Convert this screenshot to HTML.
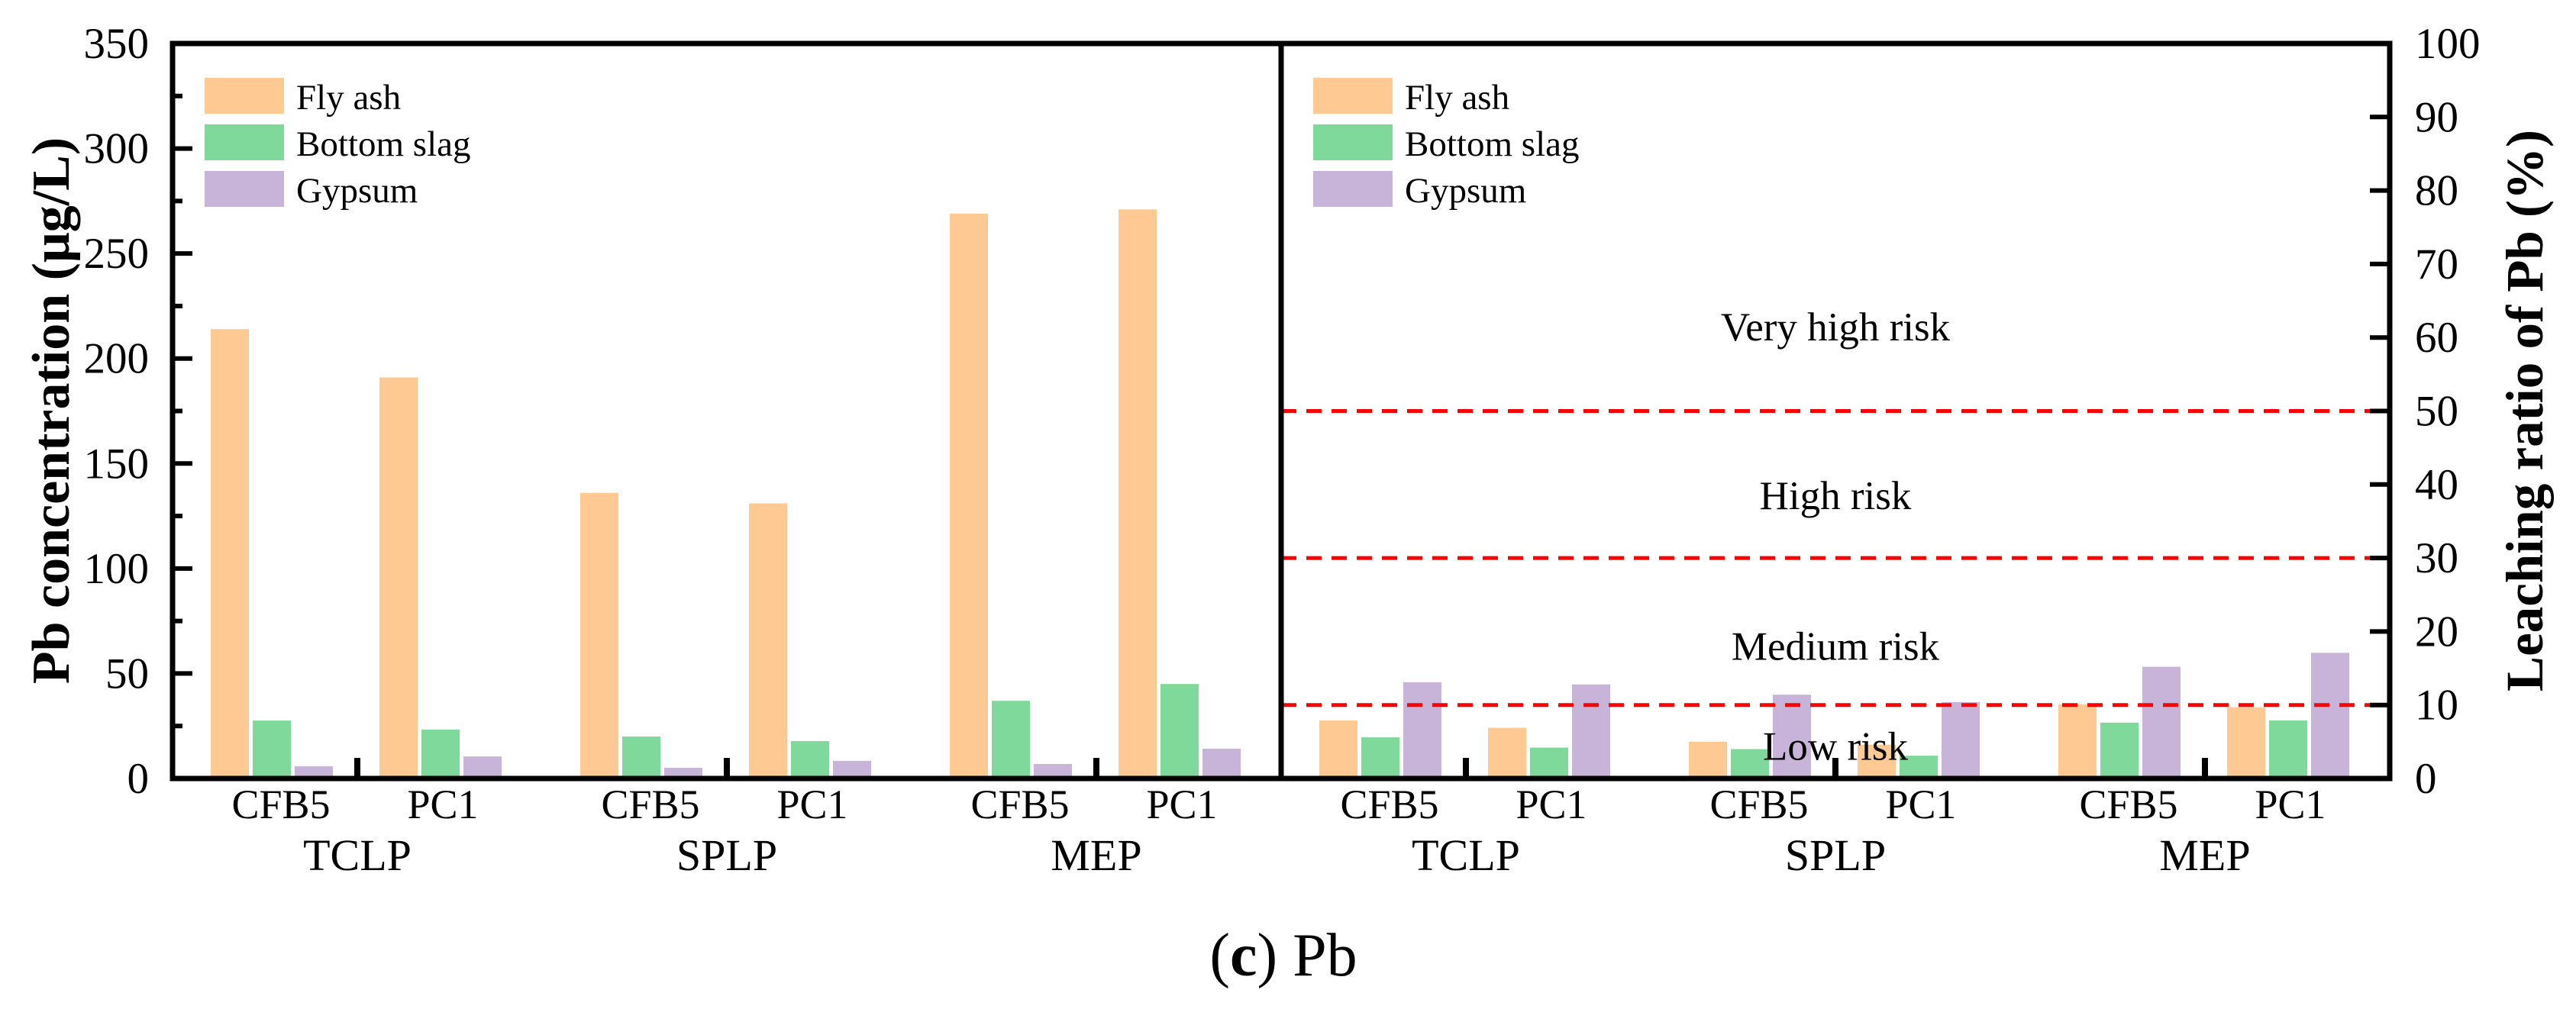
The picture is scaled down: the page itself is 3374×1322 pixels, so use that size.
<!DOCTYPE html>
<html><head><meta charset="utf-8"><style>
html,body{margin:0;padding:0;background:#fff;}
svg{display:block;}
text{font-family:"Liberation Serif",serif;fill:#000;}
</style></head>
<body>
<svg id="chart" width="3374" height="1322" viewBox="0 0 3374 1322" xmlns="http://www.w3.org/2000/svg">
<g id="bars"></g>
<g id="overlay"></g>
</svg>
<script>
const methods = ["TCLP", "SPLP", "MEP"];
const samples = ["CFB5", "PC1"];
const seriesNames = ["Fly ash", "Bottom slag", "Gypsum"];
const seriesColors = ["#FFC993", "#7FD99A", "#C8B4D8"];
// Left: Pb concentration (ug/L), order: TCLP-CFB5, TCLP-PC1, SPLP-CFB5, SPLP-PC1, MEP-CFB5, MEP-PC1
const concFlyAsh = [214, 191, 136, 131, 269, 271];
const concBottomSlag = [27.6, 23.3, 20, 17.8, 37, 45];
const concGypsum = [5.8, 10.5, 5.1, 8.4, 6.9, 14.2];
// Right: leaching ratio (%)
const ratioFlyAsh = [7.9, 6.9, 5.0, 4.6, 10.1, 9.7];
const ratioBottomSlag = [5.6, 4.2, 4.0, 3.1, 7.6, 7.9];
const ratioGypsum = [13.1, 12.8, 11.4, 10.4, 15.2, 17.1];
const leftTicks = [0, 50, 100, 150, 200, 250, 300, 350];
const rightTicks = [0, 10, 20, 30, 40, 50, 60, 70, 80, 90, 100];
const riskLines = [10, 30, 50];
const riskLabels = ["Low risk", "Medium risk", "High risk", "Very high risk"];
const riskLabelValues = [4.4, 18.0, 38.5, 61.5];

const NS = "http://www.w3.org/2000/svg";
const svg = document.getElementById("chart");
const gBars = document.getElementById("bars");
const gOv = document.getElementById("overlay");
const X0 = 226, XM = 1678, X1 = 3130, Y0 = 1020, YT = 57;
const yL = v => Y0 - (v / 350) * (Y0 - YT);
const yR = v => Y0 - (v / 100) * (Y0 - YT);
const catW = (XM - X0) / 3;
function mk(tag, attrs, parent, txt) {
  const e = document.createElementNS(NS, tag);
  for (const k in attrs) e.setAttribute(k, attrs[k]);
  if (txt !== undefined) e.textContent = txt;
  (parent || svg).appendChild(e);
  return e;
}

function drawPanel(px, data, yf, side) {
  methods.forEach((m, mi) => {
    const cx = px + catW * (mi + 0.5);
    samples.forEach((s, si) => {
      const idx = mi * 2 + si;
      const start = si === 0 ? cx - 192 : cx + 29;
      data.forEach((arr, k) => {
        const v = arr[idx];
        const r = mk("rect", {x: start + k * 55, y: yf(v), width: 50, height: Y0 - yf(v), fill: seriesColors[k]}, gBars);
        
        
      });
      const t = mk("text", {x: si === 0 ? cx - 100 : cx + 112, y: 1072, "font-size": 54, "text-anchor": "middle"}, gOv, s);
      
      
    });
    const sep = mk("rect", {x: cx - 4, y: 993, width: 8, height: 27, fill: "#000"}, gOv);
    
    
    const ml = mk("text", {x: cx, y: 1140, "font-size": 58, "text-anchor": "middle"}, gOv, m);
    
    
  });
  seriesNames.forEach((n, k) => {
    const sw = mk("rect", {x: px + 42, y: 102 + k * 61, width: 104, height: 47, fill: seriesColors[k]}, gOv);
    
    
    const lt = mk("text", {x: px + 162, y: 143 + k * 61, "font-size": 47}, gOv, n);
    
    
  });
}
drawPanel(X0, [concFlyAsh, concBottomSlag, concGypsum], yL, "left");
drawPanel(XM, [ratioFlyAsh, ratioBottomSlag, ratioGypsum], yR, "right");

riskLines.forEach(v => {
  const l = mk("line", {x1: XM, x2: X1, y1: yR(v), y2: yR(v), stroke: "#ff0000", "stroke-width": 5, "stroke-dasharray": "20 13"}, gOv);
  
  
});
riskLabels.forEach((n, i) => {
  const t = mk("text", {x: 2404, y: yR(riskLabelValues[i]) + 18, "font-size": 53, "text-anchor": "middle"}, gOv, n);
  
  
});

for (let v = 0; v <= 350; v += 25) {
  const major = v % 50 === 0;
  const tk = mk("line", {x1: X0, x2: X0 + (major ? 26 : 13), y1: yL(v), y2: yL(v), stroke: "#000", "stroke-width": 6}, gOv);
  
  
}
leftTicks.forEach(v => {
  const t = mk("text", {x: 195, y: yL(v) + 19, "font-size": 57, "text-anchor": "end"}, gOv, String(v));
  
  
});
rightTicks.forEach(v => {
  const tk = mk("line", {x1: X1 - 26, x2: X1, y1: yR(v), y2: yR(v), stroke: "#000", "stroke-width": 6}, gOv);
  
  
  const t = mk("text", {x: 3163, y: yR(v) + 19, "font-size": 57}, gOv, String(v));
  
  
});

const fr = mk("rect", {x: X0, y: YT, width: X1 - X0, height: Y0 - YT, fill: "none", stroke: "#000", "stroke-width": 7}, gOv);


const dv = mk("line", {x1: XM, x2: XM, y1: YT, y2: Y0, stroke: "#000", "stroke-width": 7}, gOv);



const lt = mk("text", {x: 0, y: 0, "font-size": 70, "font-weight": "bold", "text-anchor": "middle", transform: "translate(90,538) rotate(-90)"}, gOv, "Pb concentration (μg/L)");


const rt = mk("text", {x: 0, y: 0, "font-size": 69, "font-weight": "bold", "text-anchor": "middle", transform: "translate(3330,538) rotate(-90)"}, gOv, "Leaching ratio of Pb (%)");



const cap = mk("text", {x: 1681, y: 1278, "font-size": 80, "text-anchor": "middle"}, gOv);


mk("tspan", {}, cap, "(");
mk("tspan", {"font-weight": "bold"}, cap, "c");
mk("tspan", {}, cap, ") Pb");
</script>
</body></html>
